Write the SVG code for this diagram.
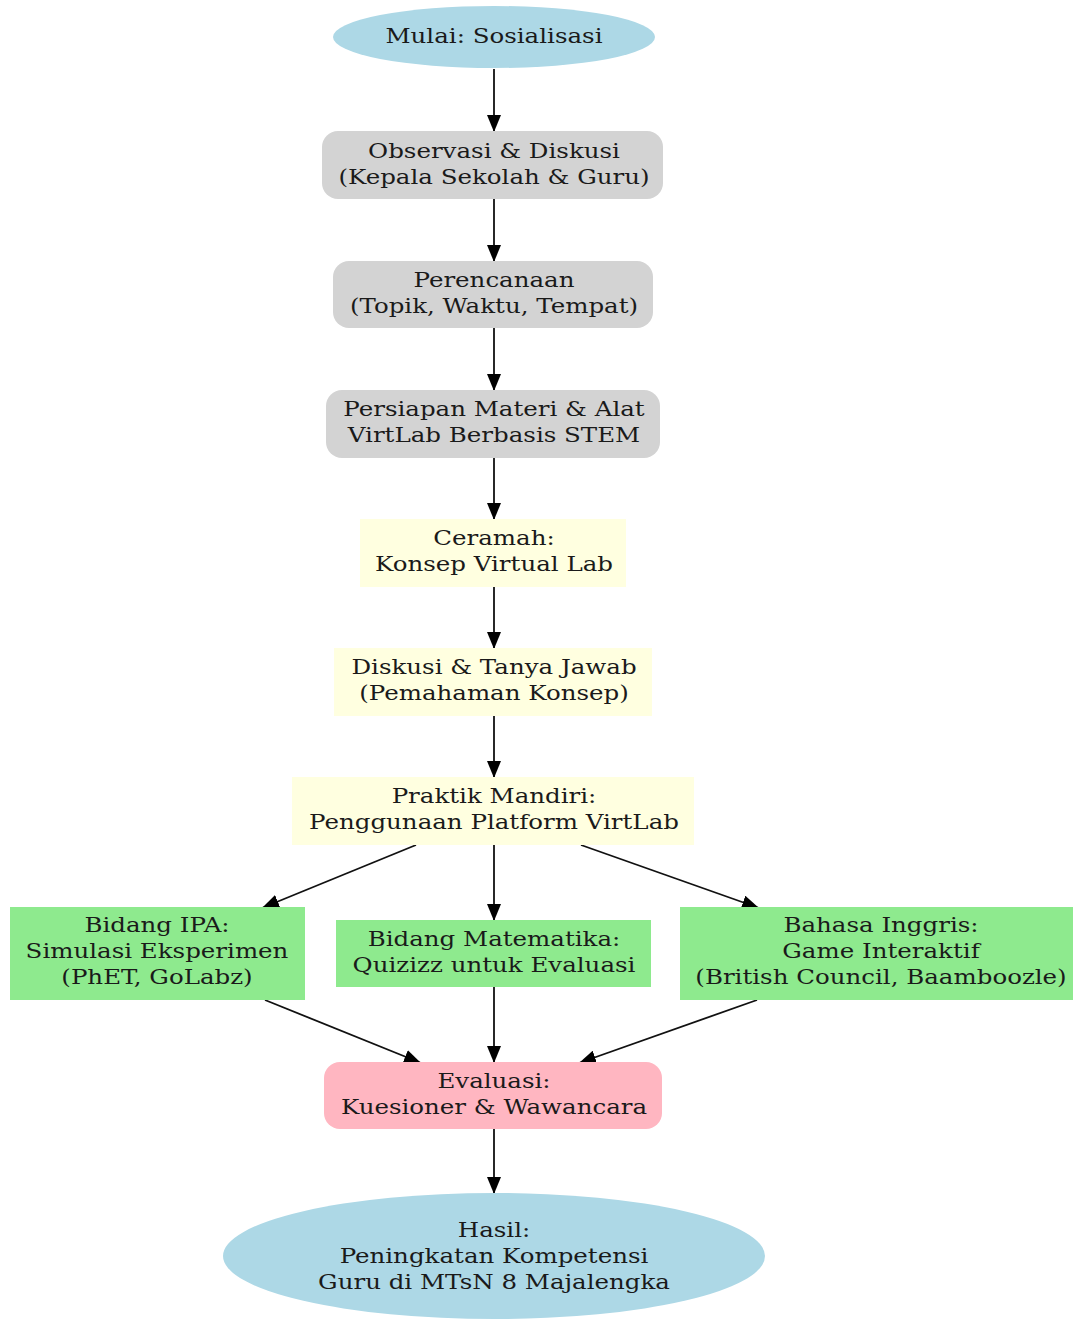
<svg xmlns="http://www.w3.org/2000/svg" width="1073" height="1320" viewBox="0 0 1073 1320">
<defs>
<style>
text{font-family:"DejaVu Serif","Liberation Serif",serif;font-size:21px;fill:#1a1a1a;text-anchor:middle}
.blue{fill:#add8e6}
.gray{fill:#d3d3d3}
.yel{fill:#ffffe0}
.grn{fill:#8eea8e}
.pink{fill:#ffb6c1}
.e{stroke:#111;stroke-width:1.8;fill:none;marker-end:url(#ah)}
</style>
<marker id="ah" viewBox="0 0 17 14" refX="17" refY="7" markerWidth="17" markerHeight="14" markerUnits="userSpaceOnUse" orient="auto">
<path d="M0,0 L17,7 L0,14 Z" fill="#000"/>
</marker>
</defs>
<rect width="1073" height="1320" fill="#fff"/>
<g id="edges">
<line class="e" x1="494" y1="69" x2="494" y2="132"/>
<line class="e" x1="494" y1="199" x2="494" y2="262"/>
<line class="e" x1="494" y1="328" x2="494" y2="391"/>
<line class="e" x1="494" y1="458" x2="494" y2="520"/>
<line class="e" x1="494" y1="587" x2="494" y2="649"/>
<line class="e" x1="494" y1="716" x2="494" y2="778"/>
<line class="e" x1="416" y1="845" x2="262" y2="908"/>
<line class="e" x1="494" y1="845" x2="494" y2="921"/>
<line class="e" x1="581" y1="845" x2="759" y2="908"/>
<line class="e" x1="265" y1="1000" x2="421" y2="1063"/>
<line class="e" x1="494" y1="987" x2="494" y2="1063"/>
<line class="e" x1="757" y1="1000" x2="579" y2="1063"/>
<line class="e" x1="494" y1="1129" x2="494" y2="1194"/>
</g>
<g id="n_mulai">
<ellipse class="blue" cx="494" cy="37" rx="161" ry="31"/>
<text transform="translate(494,43) scale(1.167,1)">Mulai: Sosialisasi</text>
</g>
<g id="n_observasi">
<rect class="gray" x="322" y="131" width="341" height="68" rx="16"/>
<text transform="translate(494,158) scale(1.167,1)">Observasi &amp; Diskusi</text>
<text transform="translate(494,184) scale(1.167,1)">(Kepala Sekolah &amp; Guru)</text>
</g>
<g id="n_perencanaan">
<rect class="gray" x="333" y="261" width="320" height="67" rx="16"/>
<text transform="translate(494,287) scale(1.167,1)">Perencanaan</text>
<text transform="translate(494,313) scale(1.167,1)">(Topik, Waktu, Tempat)</text>
</g>
<g id="n_persiapan">
<rect class="gray" x="326" y="390" width="334" height="68" rx="16"/>
<text transform="translate(494,416) scale(1.167,1)">Persiapan Materi &amp; Alat</text>
<text transform="translate(494,442) scale(1.167,1)">VirtLab Berbasis STEM</text>
</g>
<g id="n_ceramah">
<rect class="yel" x="360" y="519" width="266" height="68"/>
<text transform="translate(494,545) scale(1.167,1)">Ceramah:</text>
<text transform="translate(494,571) scale(1.167,1)">Konsep Virtual Lab</text>
</g>
<g id="n_diskusi">
<rect class="yel" x="334" y="648" width="318" height="68"/>
<text transform="translate(494,674) scale(1.167,1)">Diskusi &amp; Tanya Jawab</text>
<text transform="translate(494,700) scale(1.167,1)">(Pemahaman Konsep)</text>
</g>
<g id="n_praktik">
<rect class="yel" x="292" y="777" width="402" height="68"/>
<text transform="translate(494,803) scale(1.167,1)">Praktik Mandiri:</text>
<text transform="translate(494,829) scale(1.167,1)">Penggunaan Platform VirtLab</text>
</g>
<g id="n_ipa">
<rect class="grn" x="10" y="907" width="295" height="93"/>
<text transform="translate(157,932) scale(1.167,1)">Bidang IPA:</text>
<text transform="translate(157,958) scale(1.167,1)">Simulasi Eksperimen</text>
<text transform="translate(157,984) scale(1.167,1)">(PhET, GoLabz)</text>
</g>
<g id="n_mat">
<rect class="grn" x="336" y="920" width="315" height="67"/>
<text transform="translate(494,946) scale(1.167,1)">Bidang Matematika:</text>
<text transform="translate(494,972) scale(1.167,1)">Quizizz untuk Evaluasi</text>
</g>
<g id="n_bahasa">
<rect class="grn" x="680" y="907" width="393" height="93"/>
<text transform="translate(881,932) scale(1.167,1)">Bahasa Inggris:</text>
<text transform="translate(881,958) scale(1.167,1)">Game Interaktif</text>
<text transform="translate(881,984) scale(1.167,1)">(British Council, Baamboozle)</text>
</g>
<g id="n_evaluasi">
<rect class="pink" x="324" y="1062" width="338" height="67" rx="16"/>
<text transform="translate(494,1088) scale(1.167,1)">Evaluasi:</text>
<text transform="translate(494,1114) scale(1.167,1)">Kuesioner &amp; Wawancara</text>
</g>
<g id="n_hasil">
<ellipse class="blue" cx="494" cy="1256" rx="271" ry="63"/>
<text transform="translate(494,1237) scale(1.167,1)">Hasil:</text>
<text transform="translate(494,1263) scale(1.167,1)">Peningkatan Kompetensi</text>
<text transform="translate(494,1289) scale(1.167,1)">Guru di MTsN 8 Majalengka</text>
</g>
</svg>
